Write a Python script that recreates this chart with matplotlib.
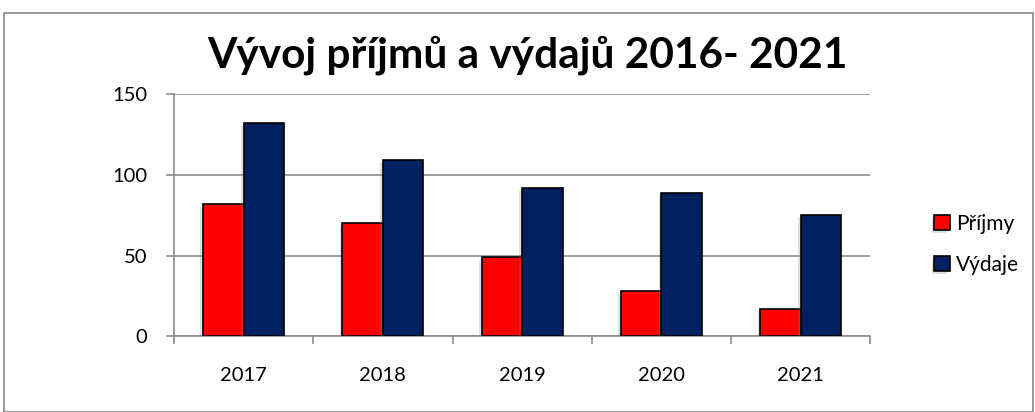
import numpy as np
import matplotlib
matplotlib.use("Agg")
import matplotlib.pyplot as plt
import matplotlib.patheffects as pe
from matplotlib.patches import Rectangle

plt.rcParams["font.family"] = ["Lato", "DejaVu Sans"]

years = ["2017", "2018", "2019", "2020", "2021"]
prijmy = [82, 70, 49, 28, 17]
vydaje = [132, 109, 92, 89, 75]

fig = plt.figure(figsize=(10.35, 4.12), dpi=100)
fig.patches.append(Rectangle((0.004, 0.0), 0.994, 0.968, transform=fig.transFigure,
                             fill=False, edgecolor="#888888", linewidth=1.2))
ax = fig.add_axes([0.168, 0.184, 0.673, 0.587])

x = np.arange(len(years))
w = 0.29
shadow = [pe.SimplePatchShadow(offset=(-2, -2), shadow_rgbFace="gray", alpha=0.25), pe.Normal()]
b1 = ax.bar(x - w / 2, prijmy, w, color="#FF0000", edgecolor="black", linewidth=1.2,
            label="Příjmy", zorder=3)
b2 = ax.bar(x + w / 2, vydaje, w, color="#002060", edgecolor="black", linewidth=1.2,
            label="Výdaje", zorder=3)
for b in list(b1) + list(b2):
    b.set_path_effects(shadow)

ax.set_xlim(-0.5, len(years) - 0.5)
ax.set_ylim(0, 150)
ax.set_yticks([0, 50, 100, 150])
ax.yaxis.grid(True, color="#8c8c8c", linewidth=1.2, zorder=0)
ax.set_axisbelow(True)

ax.set_xticks(x)
ax.set_xticklabels(years)
ax.set_xticks(np.arange(-0.5, len(years)), minor=True)
ax.tick_params(axis="x", which="major", length=0, pad=22, labelsize=14.5)
ax.tick_params(axis="x", which="minor", length=6, color="#8c8c8c", width=1.2)
ax.tick_params(axis="y", length=6, color="#8c8c8c", width=1.2, labelsize=14.5, pad=13)

for s in ["top", "right"]:
    ax.spines[s].set_visible(False)
for s in ["left", "bottom"]:
    ax.spines[s].set_color("#8c8c8c")
    ax.spines[s].set_linewidth(1.2)

fig.text(0.51, 0.865, "Vývoj příjmů a výdajů 2016- 2021", ha="center", va="center",
         fontsize=30.5, fontweight="bold")

ax.legend(loc="center left", bbox_to_anchor=(1.065, 0.38), frameon=False, fontsize=15,
          handlelength=0.75, handleheight=0.75, handletextpad=0.3, labelspacing=1.0)

fig.savefig("out.png", dpi=100)
